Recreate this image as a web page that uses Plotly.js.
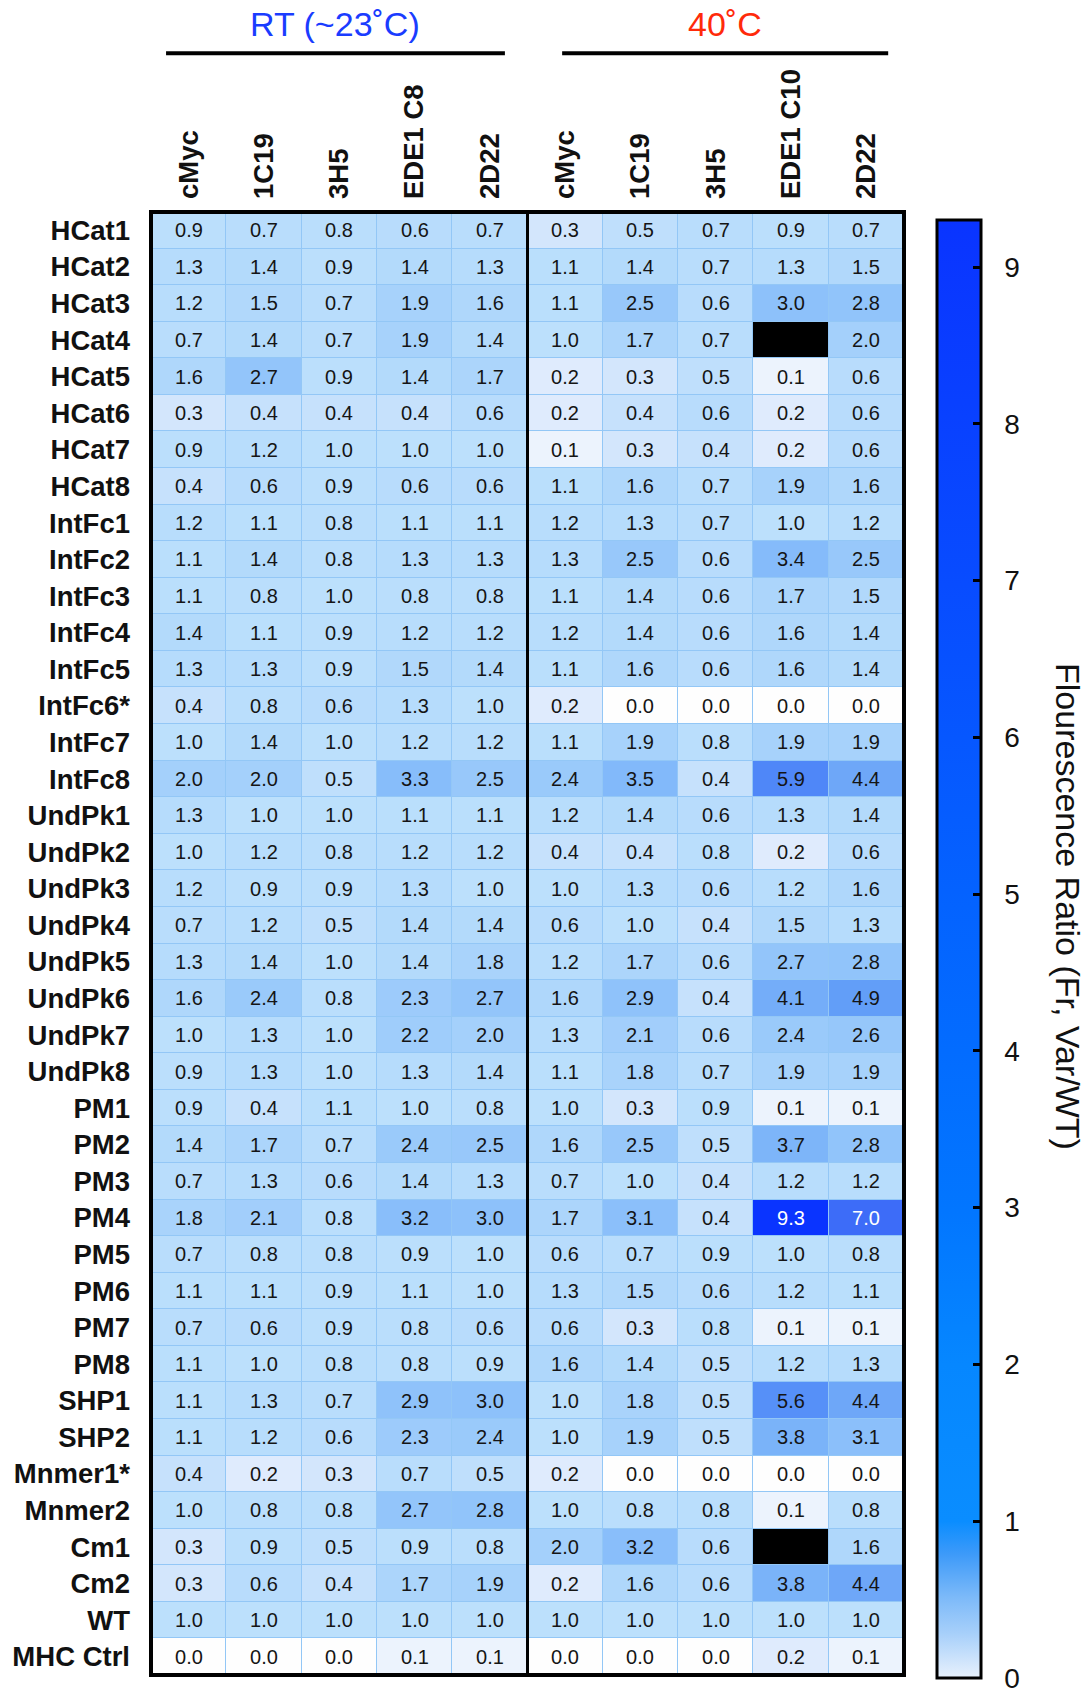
<!DOCTYPE html>
<html>
<head>
<meta charset="utf-8">
<script src="https://cdn.plot.ly/plotly-3.0.1.min.js"></script>
<style>html,body{margin:0;padding:0;background:#fff;}#chart{width:1086px;height:1690px;}</style>
</head>
<body>
<div id="chart"></div>
<script>
// ---- Data ----
const rowLabels = ['HCat1','HCat2','HCat3','HCat4','HCat5','HCat6','HCat7','HCat8',
  'IntFc1','IntFc2','IntFc3','IntFc4','IntFc5','IntFc6*','IntFc7','IntFc8',
  'UndPk1','UndPk2','UndPk3','UndPk4','UndPk5','UndPk6','UndPk7','UndPk8',
  'PM1','PM2','PM3','PM4','PM5','PM6','PM7','PM8',
  'SHP1','SHP2','Mnmer1*','Mnmer2','Cm1','Cm2','WT','MHC Ctrl'];

const colLabels = ['cMyc','1C19','3H5','EDE1 C8','2D22','cMyc','1C19','3H5','EDE1 C10','2D22'];

const groupLabels = ['RT (~23˚C)', '40˚C'];

// Room temperature (~23 C): cMyc, 1C19, 3H5, EDE1 C8, 2D22
const rtValues = [
  [0.9,0.7,0.8,0.6,0.7],[1.3,1.4,0.9,1.4,1.3],[1.2,1.5,0.7,1.9,1.6],[0.7,1.4,0.7,1.9,1.4],
  [1.6,2.7,0.9,1.4,1.7],[0.3,0.4,0.4,0.4,0.6],[0.9,1.2,1.0,1.0,1.0],[0.4,0.6,0.9,0.6,0.6],
  [1.2,1.1,0.8,1.1,1.1],[1.1,1.4,0.8,1.3,1.3],[1.1,0.8,1.0,0.8,0.8],[1.4,1.1,0.9,1.2,1.2],
  [1.3,1.3,0.9,1.5,1.4],[0.4,0.8,0.6,1.3,1.0],[1.0,1.4,1.0,1.2,1.2],[2.0,2.0,0.5,3.3,2.5],
  [1.3,1.0,1.0,1.1,1.1],[1.0,1.2,0.8,1.2,1.2],[1.2,0.9,0.9,1.3,1.0],[0.7,1.2,0.5,1.4,1.4],
  [1.3,1.4,1.0,1.4,1.8],[1.6,2.4,0.8,2.3,2.7],[1.0,1.3,1.0,2.2,2.0],[0.9,1.3,1.0,1.3,1.4],
  [0.9,0.4,1.1,1.0,0.8],[1.4,1.7,0.7,2.4,2.5],[0.7,1.3,0.6,1.4,1.3],[1.8,2.1,0.8,3.2,3.0],
  [0.7,0.8,0.8,0.9,1.0],[1.1,1.1,0.9,1.1,1.0],[0.7,0.6,0.9,0.8,0.6],[1.1,1.0,0.8,0.8,0.9],
  [1.1,1.3,0.7,2.9,3.0],[1.1,1.2,0.6,2.3,2.4],[0.4,0.2,0.3,0.7,0.5],[1.0,0.8,0.8,2.7,2.8],
  [0.3,0.9,0.5,0.9,0.8],[0.3,0.6,0.4,1.7,1.9],[1.0,1.0,1.0,1.0,1.0],[0.0,0.0,0.0,0.1,0.1]
];

// 40 C: cMyc, 1C19, 3H5, EDE1 C10, 2D22 (null = no data, drawn black)
const hotValues = [
  [0.3,0.5,0.7,0.9,0.7],[1.1,1.4,0.7,1.3,1.5],[1.1,2.5,0.6,3.0,2.8],[1.0,1.7,0.7,null,2.0],
  [0.2,0.3,0.5,0.1,0.6],[0.2,0.4,0.6,0.2,0.6],[0.1,0.3,0.4,0.2,0.6],[1.1,1.6,0.7,1.9,1.6],
  [1.2,1.3,0.7,1.0,1.2],[1.3,2.5,0.6,3.4,2.5],[1.1,1.4,0.6,1.7,1.5],[1.2,1.4,0.6,1.6,1.4],
  [1.1,1.6,0.6,1.6,1.4],[0.2,0.0,0.0,0.0,0.0],[1.1,1.9,0.8,1.9,1.9],[2.4,3.5,0.4,5.9,4.4],
  [1.2,1.4,0.6,1.3,1.4],[0.4,0.4,0.8,0.2,0.6],[1.0,1.3,0.6,1.2,1.6],[0.6,1.0,0.4,1.5,1.3],
  [1.2,1.7,0.6,2.7,2.8],[1.6,2.9,0.4,4.1,4.9],[1.3,2.1,0.6,2.4,2.6],[1.1,1.8,0.7,1.9,1.9],
  [1.0,0.3,0.9,0.1,0.1],[1.6,2.5,0.5,3.7,2.8],[0.7,1.0,0.4,1.2,1.2],[1.7,3.1,0.4,9.3,7.0],
  [0.6,0.7,0.9,1.0,0.8],[1.3,1.5,0.6,1.2,1.1],[0.6,0.3,0.8,0.1,0.1],[1.6,1.4,0.5,1.2,1.3],
  [1.0,1.8,0.5,5.6,4.4],[1.0,1.9,0.5,3.8,3.1],[0.2,0.0,0.0,0.0,0.0],[1.0,0.8,0.8,0.1,0.8],
  [2.0,3.2,0.6,null,1.6],[0.2,1.6,0.6,3.8,4.4],[1.0,1.0,1.0,1.0,1.0],[0.0,0.0,0.0,0.2,0.1]
];

const colorbarTicks = [0,1,2,3,4,5,6,7,8,9];
const colorbarTitle = 'Flourescence Ratio (Fr, Var/WT)';

// ---- Styles ----
const ZMAX = 9.3;
const WHITE_TEXT_MIN = 6.5;
const FONT = 'Liberation Sans, Arial, Helvetica, sans-serif';
const cellScale = [
  [0.000,'#fefefe'],[0.011,'#ecf3fd'],[0.022,'#deebfd'],[0.032,'#d3e6fc'],
  [0.043,'#c6e1fc'],[0.065,'#b8dcfc'],[0.11,'#bce0fc'],[0.17,'#afd7fb'],
  [0.215,'#a4d0fb'],[0.30,'#91c4fa'],[0.366,'#85bbfa'],[0.41,'#7ab3f9'],
  [0.473,'#6ea7f8'],[0.527,'#629ef8'],[0.602,'#5690f8'],[0.635,'#4f87f8'],
  [0.753,'#3d6cf8'],[1.000,'#0a34ff']
];
const barScale = [
  [0.000,'#e8f1fc'],[0.03,'#a8d0fa'],[0.055,'#7dbaf9'],[0.085,'#3d9af9'],
  [0.1075,'#0a8dff'],[0.215,'#0687ff'],[0.32,'#0276ff'],[0.54,'#0462ff'],
  [0.75,'#084cff'],[1.000,'#0a34ff']
];

// colorbar geometry (pixels)
const PLOT_L = 151, PLOT_W = 753, PLOT_B = 1677, PLOT_H = 1465;
const CB_LEFT = 937, CB_TOP = 221, CB_BOTTOM = 1679, CB_THICK = 44;
const cbLen = CB_BOTTOM - CB_TOP;
const cbCenterPaper = (PLOT_B - (CB_TOP + CB_BOTTOM) / 2) / PLOT_H;

// ---- Build matrices ----
const nR = rowLabels.length;
const xIdx = colLabels.map((_, i) => i);
const yIdx = rowLabels.map((_, i) => i);
const z = rowLabels.map((_, i) => rtValues[i].concat(hotValues[i]));
const txt = z.map(r => r.map(v => v == null ? '' : v.toFixed(1)));
const zMissing = z.map(r => r.map(v => v == null ? 1 : null));
const zHigh = z.map(r => r.map(v => (v != null && v >= WHITE_TEXT_MIN) ? v : null));
const txtHigh = zHigh.map(r => r.map(v => v == null ? '' : v.toFixed(1)));

const gap = 1;
const traces = [
  {
    type: 'heatmap', x: xIdx, y: yIdx, z: z, text: txt,
    texttemplate: '%{text}', textfont: {family: FONT, size: 20, color: '#151515'},
    colorscale: cellScale, zmin: 0, zmax: ZMAX, showscale: false,
    xgap: gap, ygap: gap, hoverinfo: 'skip'
  },
  {
    type: 'heatmap', x: xIdx, y: yIdx, z: zHigh, text: txtHigh,
    texttemplate: '%{text}', textfont: {family: FONT, size: 20, color: '#ffffff'},
    colorscale: cellScale, zmin: 0, zmax: ZMAX, showscale: false,
    xgap: gap, ygap: gap, hoverinfo: 'skip'
  },
  {
    type: 'heatmap', x: xIdx, y: yIdx, z: zMissing,
    colorscale: [[0,'#000000'],[1,'#000000']], zmin: 0, zmax: 1, showscale: false,
    xgap: gap, ygap: gap, hoverinfo: 'skip'
  },
  {
    type: 'scatter', x: [null], y: [null], mode: 'markers', hoverinfo: 'skip', showlegend: false,
    marker: {
      color: [0], cmin: 0, cmax: ZMAX, colorscale: barScale, showscale: true,
      colorbar: {
        x: (CB_LEFT - PLOT_L) / PLOT_W, xanchor: 'left', y: cbCenterPaper, yanchor: 'middle',
        thickness: CB_THICK, thicknessmode: 'pixels', len: cbLen, lenmode: 'pixels',
        outlinewidth: 3, outlinecolor: '#000',
        tickvals: colorbarTicks, ticktext: colorbarTicks.map(t => '\u00a0\u00a0' + t),
        ticks: 'inside', ticklen: 9, tickwidth: 3, tickcolor: '#000',
        ticklabeloverflow: 'allow',
        tickfont: {family: FONT, size: 28, color: '#111'},
        xpad: 0, ypad: 0, borderwidth: 0
      }
    }
  }
];

// left-edge ticks of the colour bar (mirrors the right-side ticks)
const cbTickShapes = colorbarTicks.map(t => {
  const py = CB_BOTTOM - t / ZMAX * cbLen;
  const yp = (PLOT_B - py) / PLOT_H;
  return {type: 'line', xref: 'paper', yref: 'paper',
    x0: (CB_LEFT + 2 - PLOT_L) / PLOT_W, x1: (CB_LEFT + 11 - PLOT_L) / PLOT_W,
    y0: yp, y1: yp, line: {color: '#000', width: 3}};
}).filter((_, i) => colorbarTicks[i] > 0);

const layout = {
  width: 1086, height: 1690,
  margin: {l: 151, r: 182, t: 212, b: 13},
  paper_bgcolor: '#ffffff', plot_bgcolor: '#93c7f6',
  showlegend: false,
  font: {family: FONT},
  xaxis: {
    side: 'top', range: [-0.5, 9.5], tickmode: 'array', tickvals: xIdx, ticktext: colLabels,
    tickangle: -90, ticks: '', showgrid: false, zeroline: false, showline: false,
    tickfont: {family: FONT, size: 27.5, color: '#111', weight: 'bold'},
    ticklabelstandoff: 12, fixedrange: true
  },
  yaxis: {
    range: [nR - 0.5, -0.5], tickmode: 'array', tickvals: yIdx, ticktext: rowLabels,
    ticks: '', showgrid: false, zeroline: false, showline: false,
    tickfont: {family: FONT, size: 27.5, color: '#111', weight: 'bold'},
    ticklabelstandoff: 20, fixedrange: true
  },
  shapes: [
    {type: 'rect', xref: 'paper', yref: 'paper', x0: 0, x1: 1, y0: 0, y1: 1,
     line: {color: '#000', width: 4}},
    {type: 'line', xref: 'x', yref: 'paper', x0: 4.5, x1: 4.5, y0: 0, y1: 1,
     line: {color: '#000', width: 3}},
    {type: 'line', xref: 'paper', yref: 'paper', x0: 0.020, x1: 0.470, y0: 1.1085, y1: 1.1085,
     line: {color: '#000', width: 4}},
    {type: 'line', xref: 'paper', yref: 'paper', x0: 0.546, x1: 0.979, y0: 1.1085, y1: 1.1085,
     line: {color: '#000', width: 4}}
  ].concat(cbTickShapes),
  annotations: [
    {xref: 'paper', yref: 'paper', x: 0.2444, y: 1.1285, xanchor: 'center', yanchor: 'middle',
     text: groupLabels[0], showarrow: false, font: {family: FONT, size: 34, color: '#1a3cff'}},
    {xref: 'paper', yref: 'paper', x: 0.7623, y: 1.1285, xanchor: 'center', yanchor: 'middle',
     text: groupLabels[1], showarrow: false, font: {family: FONT, size: 34, color: '#ff2a0a'}},
    {xref: 'paper', yref: 'paper', x: (1068 - PLOT_L) / PLOT_W, y: (PLOT_B - 907) / PLOT_H,
     xanchor: 'center', yanchor: 'middle', textangle: 90,
     text: colorbarTitle, showarrow: false, font: {family: FONT, size: 34, color: '#111'}}
  ]
};

Plotly.newPlot('chart', traces, layout, {displayModeBar: false, staticPlot: true});
</script>
</body>
</html>
